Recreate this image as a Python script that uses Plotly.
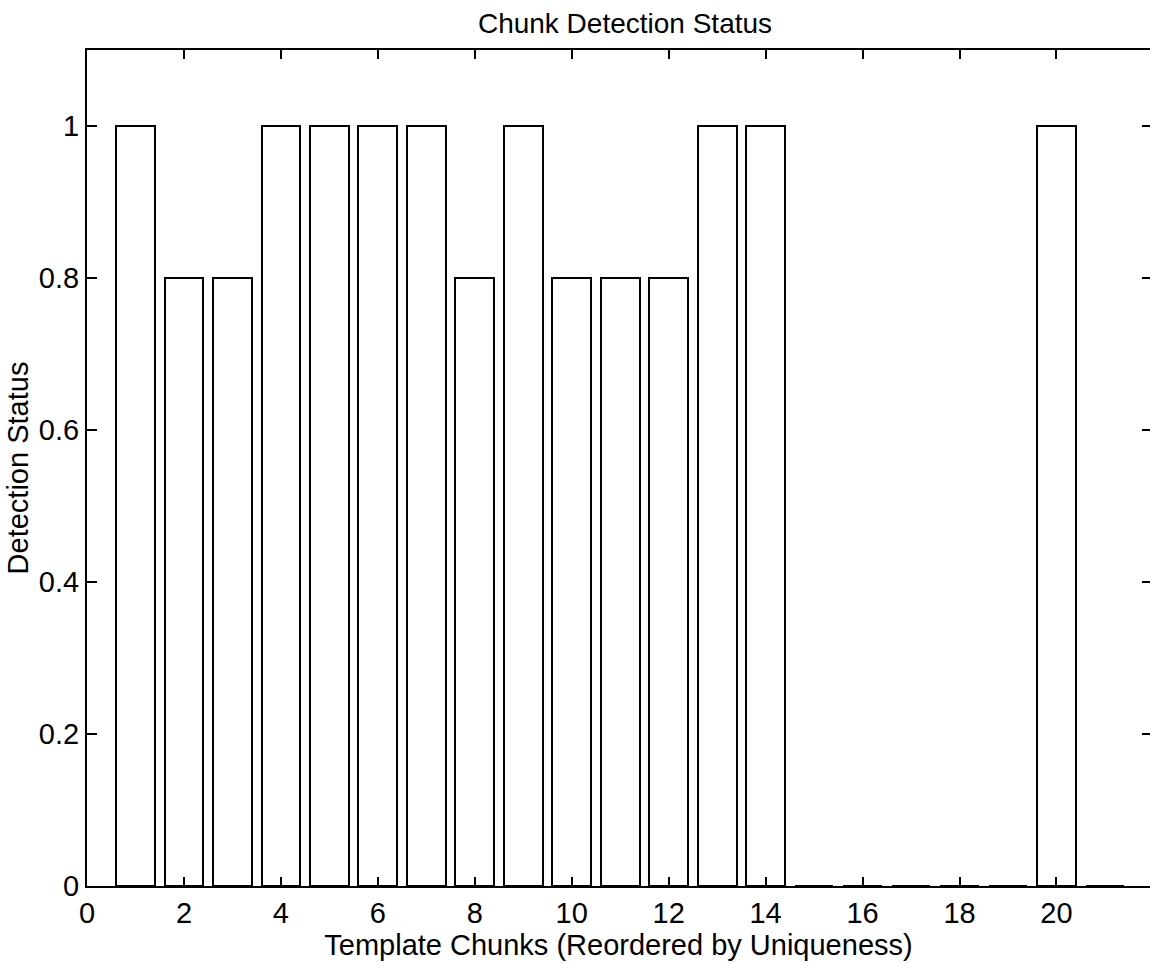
import plotly.graph_objects as go

chunks = list(range(1, 22))
status = [1, 0.8, 0.8, 1, 1, 1, 1, 0.8, 1, 0.8, 0.8, 0.8, 1, 1, 0, 0, 0, 0, 0, 1, 0]
x_ticks = [0, 2, 4, 6, 8, 10, 12, 14, 16, 18, 20]
y_ticks = [0, 0.2, 0.4, 0.6, 0.8, 1]
y_tick_text = ["0", "0.2", "0.4", "0.6", "0.8", "1"]

FONT = "Liberation Sans, Arial, Helvetica, sans-serif"

fig = go.Figure()
fig.add_trace(go.Bar(
    x=chunks, y=status, width=0.8,
    marker=dict(color="white", line=dict(color="black", width=2)),
    showlegend=False,
))
# invisible trace for right-hand y ticks
fig.add_trace(go.Scatter(x=[None], y=[None], yaxis="y2", showlegend=False))

fig.update_layout(
    width=1150, height=963,
    margin=dict(l=87, r=0, t=50, b=77),
    paper_bgcolor="white", plot_bgcolor="white",
    title=dict(text="Chunk Detection Status", x=625/1150, xanchor="center",
               y=1 - 23/963, yanchor="middle",
               font=dict(family=FONT, size=28, color="black")),
    font=dict(family=FONT, color="black"),
    bargap=0,
    xaxis=dict(
        range=[0, 21.93], tickvals=x_ticks, ticks="inside", ticklen=9, tickwidth=2,
        tickcolor="black", showline=True, linecolor="black", linewidth=2,
        mirror="ticks", showgrid=False, zeroline=False,
        tickfont=dict(family=FONT, size=29, color="black"),
        title=dict(text="Template Chunks (Reordered by Uniqueness)", standoff=0,
                   font=dict(family=FONT, size=29, color="black")),
    ),
    yaxis=dict(
        range=[0, 1.1], tickvals=y_ticks, ticktext=y_tick_text, ticks="inside",
        ticklen=10, tickwidth=2, tickcolor="black", showline=True,
        linecolor="black", linewidth=2, showgrid=False, zeroline=False,
        tickfont=dict(family=FONT, size=29, color="black"),
        title=dict(text="Detection Status", standoff=2,
                   font=dict(family=FONT, size=29, color="black")),
    ),
    yaxis2=dict(
        overlaying="y", side="right", range=[0, 1.1], tickvals=y_ticks,
        ticks="inside", ticklen=8, tickwidth=2, tickcolor="black",
        showticklabels=False, showline=False, showgrid=False, zeroline=False,
    ),
)

fig.write_html("out.html")
